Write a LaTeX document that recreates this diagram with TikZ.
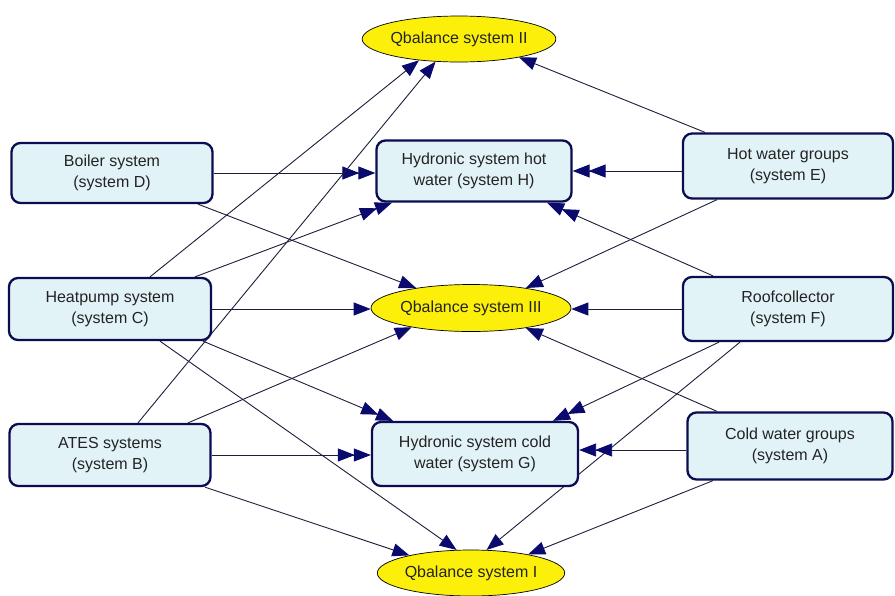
\documentclass[tikz,border=0pt]{standalone}
\usepackage{fontspec}
\setmainfont{Liberation Sans}
\usetikzlibrary{arrows.meta,shapes.geometric}
\pgfdeclarelayer{background}
\pgfsetlayers{background,main}
\definecolor{boxfill}{RGB}{226,243,248}
\definecolor{boxline}{RGB}{12,12,80}
\definecolor{qfill}{RGB}{252,240,10}
\definecolor{tipblue}{RGB}{10,10,110}
\definecolor{wire}{RGB}{30,30,60}
\definecolor{txt}{RGB}{35,35,35}

\begin{document}
\begin{tikzpicture}[x=1pt,y=-1pt,
  labelfont/.style={font=\fontsize{16}{21.5}\selectfont},
  sysbox/.style={draw=boxline, line width=2.3pt, fill=boxfill, rounded corners=9pt,
    inner sep=0pt, align=center, text=txt, labelfont},
  qbal/.style={ellipse, draw=black, line width=0.7pt, fill=qfill, inner sep=0pt,
    text=txt, labelfont},
  toq/.style={draw=wire, line width=0.9pt,
    -{Triangle[length=17pt,width=13pt,color=tipblue]}},
  tobox/.style={draw=wire, line width=0.9pt,
    -{Triangle[length=17pt,width=13pt,color=tipblue,sep=-1pt]
      Triangle[length=17pt,width=13pt,color=tipblue]}},
]
\useasboundingbox (0,0) rectangle (895,595);

% heat and cold sources / groups
\node[sysbox, minimum width=201pt, minimum height=60pt] (D) at (112,173) {Boiler system\\(system D)};
\node[sysbox, minimum width=202pt, minimum height=62pt] (C) at (110,309) {Heatpump system\\(system C)};
\node[sysbox, minimum width=201pt, minimum height=62pt] (B) at (110,455) {ATES systems\\(system B)};
\node[sysbox, minimum width=210pt, minimum height=65pt] (E) at (788,166) {Hot water groups\\(system E)};
\node[sysbox, minimum width=210pt, minimum height=64pt] (F) at (788,309) {Roofcollector\\(system F)};
\node[sysbox, minimum width=205pt, minimum height=67pt] (A) at (790,446) {Cold water groups\\(system A)};

% hydronic systems
\node[sysbox, minimum width=195pt, minimum height=61pt] (H) at (474,171) {Hydronic system hot\\water (system H)};
\node[sysbox, minimum width=206pt, minimum height=64pt] (G) at (475,454) {Hydronic system cold\\water (system G)};

% heat balances
\node[qbal, minimum width=168pt, minimum height=46pt] (Q2) at (459,39) {Qbalance system II};
\node[qbal, minimum width=172pt, minimum height=47pt] (Q3) at (471,308) {Qbalance system III};
\node[qbal, minimum width=178pt, minimum height=46pt] (Q1) at (471,573) {Qbalance system I};

\begin{pgfonlayer}{background}
\fill[white] (0,0) rectangle (895,595);
% from the boiler
\draw[tobox] (D.east) -- (D.east -| H.west);
\draw[toq] ([xshift=86pt]D.south) -- (Q3.160);
% from the heat pump
\draw[toq] ([xshift=40pt]C.north) -- (Q2.208);
\draw[tobox] ([xshift=85pt]C.north) -- ([xshift=-82pt]H.south);
\draw[toq] (C.east) -- (C.east -| Q3.west);
\draw[tobox] ([xshift=93pt]C.south) -- ([xshift=-82pt]G.north);
\draw[toq] ([xshift=50pt]C.south) -- (Q1.122);
% from the ATES
\draw[toq] ([xshift=28pt]B.north) -- (Q2.224);
\draw[toq] ([xshift=78pt]B.north) -- (Q3.198);
\draw[tobox] (B.east) -- (B.east -| G.west);
\draw[toq] ([xshift=95pt]B.south) -- (Q1.164);
% from the hot water groups
\draw[toq] ([xshift=-83pt]E.north) -- (Q2.343);
\draw[tobox] (E.west |- H.east) -- (H.east);
\draw[toq] ([xshift=-71pt]E.south) -- (Q3.20);
% from the roof collector
\draw[tobox] ([xshift=-75pt]F.north) -- ([xshift=73pt]H.south);
\draw[toq] (F.west) -- (F.west -| Q3.east);
\draw[tobox] ([xshift=-69pt]F.south) -- ([xshift=78pt]G.north);
\draw[toq] ([xshift=-48pt]F.south) -- (Q1.56);
% from the cold water groups
\draw[toq] ([xshift=-73pt]A.north) -- (Q3.340);
\draw[tobox] ([yshift=-4pt]A.west) -- ([yshift=-4pt]A.west -| G.east);
\draw[toq] ([xshift=-77pt]A.south) -- (Q1.18);
\end{pgfonlayer}
\end{tikzpicture}
\end{document}
